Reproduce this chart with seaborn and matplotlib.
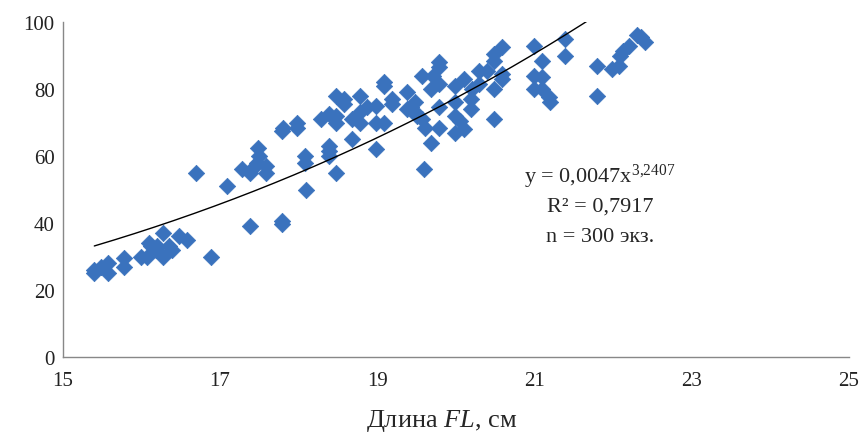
import numpy as np
import pandas as pd
import matplotlib
matplotlib.use('Agg')
import matplotlib.pyplot as plt
import seaborn as sns

# fork length (cm) and mass (g)
fl = [15.4, 15.4, 15.48, 15.58, 15.58, 15.78, 15.78, 15.99, 16.07, 16.09,
      16.12, 16.18, 16.2, 16.28, 16.28, 16.35, 16.39, 16.48, 16.58, 16.69,
      16.88, 17.09, 17.28, 17.38, 17.38, 17.44, 17.47, 17.48, 17.5, 17.58,
      17.58, 17.79, 17.8, 17.79, 17.79, 17.98, 17.98, 18.08, 18.08, 18.09,
      18.28, 18.38, 18.38, 18.38, 18.38, 18.48, 18.48, 18.48, 18.48, 18.58,
      18.58, 18.68, 18.68, 18.78, 18.78, 18.78, 18.87, 18.98, 18.98, 18.98,
      19.08, 19.08, 19.08, 19.19, 19.19, 19.38, 19.38, 19.43, 19.48, 19.48,
      19.5, 19.57, 19.57, 19.59, 19.61, 19.68, 19.68, 19.71, 19.78, 19.78,
      19.78, 19.78, 19.78, 19.99, 19.99, 19.99, 19.99, 20.05, 20.1, 20.1,
      20.19, 20.19, 20.2, 20.29, 20.29, 20.39, 20.48, 20.48, 20.48, 20.48,
      20.59, 20.59, 20.59, 20.99, 20.99, 20.99, 21.09, 21.09, 21.09, 21.18,
      21.2, 21.39, 21.39, 21.8, 21.8, 21.99, 22.08, 22.09, 22.13, 22.2,
      22.3, 22.36, 22.4]
mass = [25, 26, 27, 25, 28, 27, 29.5, 30, 30, 34,
        33, 32, 33, 37, 30, 33, 32, 36, 35, 55,
        30, 51, 56, 55, 39, 57, 58, 62.5, 60, 57,
        55, 67.5, 68.5, 40.7, 39.7, 68.5, 70, 60, 58, 50,
        71, 72.5, 63, 61.5, 60, 78, 72, 70, 55, 77,
        75.5, 65, 71, 78, 73, 70, 74.5, 75, 70, 62,
        82, 81, 70, 77, 75.5, 79, 74, 74.5, 76, 73,
        72, 84, 71, 56, 68.5, 64, 80, 84, 88, 86.5,
        81.5, 74.5, 68.5, 81, 76, 72, 67, 70.5, 83, 68,
        77, 74, 80, 85.5, 81.5, 85.5, 90.5, 88.5, 80, 71,
        92.5, 84.5, 83, 93, 84, 80, 88.5, 83.5, 80, 77.5,
        76, 95, 90, 87, 78, 86, 87, 90, 91.5, 93,
        96, 95.5, 94]

coef_a = 0.0047
coef_b = 3.2407
fit_x = np.linspace(15.4, 21.7, 200)
fit_y = coef_a * fit_x ** coef_b

df = pd.DataFrame({'FL': fl, 'W': mass})
fit = pd.DataFrame({'FL': fit_x, 'W': fit_y})

sns.set_style('white')
plt.rcParams['font.family'] = ['Liberation Serif', 'DejaVu Serif']
plt.rcParams['mathtext.fontset'] = 'custom'
plt.rcParams['mathtext.rm'] = 'Liberation Serif'
plt.rcParams['mathtext.it'] = 'Liberation Serif:italic'

fig, ax = plt.subplots(figsize=(8.61, 4.35), dpi=100)
fig.subplots_adjust(left=0.073, right=0.986, bottom=0.177, top=0.947)

sns.scatterplot(data=df, x='FL', y='W', marker='D', s=70, color='#3a72bd',
                edgecolor='#3a72bd', linewidth=0.5, ax=ax, zorder=2)
sns.lineplot(data=fit, x='FL', y='W', color='black', linewidth=1.0, ax=ax, zorder=3)

ax.set_xlim(15, 25)
ax.set_ylim(0, 100)
ax.set_xticks([15, 17, 19, 21, 23, 25])
ax.set_yticks([0, 20, 40, 60, 80, 100])
ax.tick_params(axis='both', labelsize=15, colors='#222222', length=0)
ax.tick_params(axis='x', length=4, direction='inout', color='#888888', pad=8)
ax.tick_params(axis='y', pad=6)
for side in ['top', 'right']:
    ax.spines[side].set_visible(False)
for side in ['left', 'bottom']:
    ax.spines[side].set_color('#888888')
    ax.spines[side].set_linewidth(1.0)

ax.set_xlabel('Длина $\\it{FL}$, см', fontsize=19, labelpad=8)
ax.xaxis.set_label_coords(0.482, -0.15)
ax.set_ylabel('')

ax.text(21.83, 54, 'y = 0,0047x$^{3{,}2407}$', fontsize=16, ha='center', va='center')
ax.text(21.83, 45, 'R² = 0,7917', fontsize=16, ha='center', va='center')
ax.text(21.83, 36, 'n = 300 экз.', fontsize=16, ha='center', va='center')

plt.savefig('out.png', dpi=100)
